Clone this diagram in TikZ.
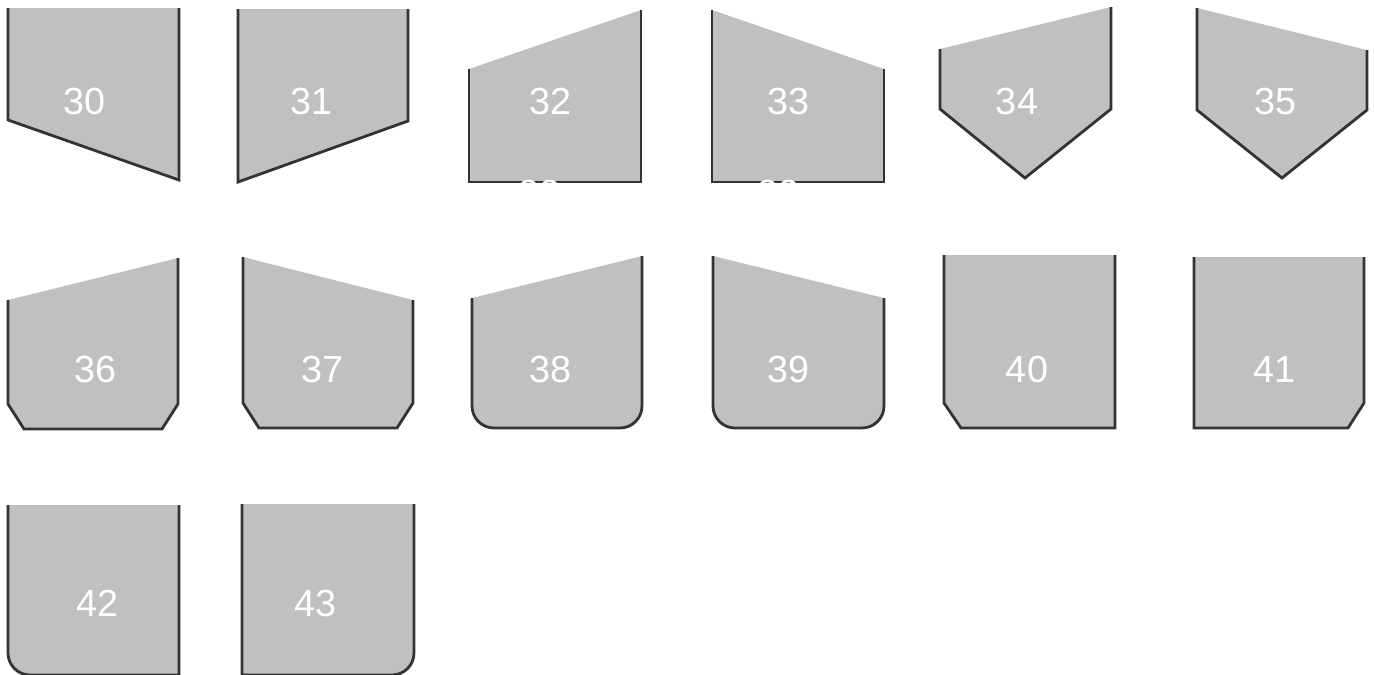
\documentclass[tikz,border=0pt]{standalone}
\usepackage{fontspec}
\setmainfont{Liberation Sans}
\definecolor{platefill}{HTML}{C0C0C0}
\definecolor{rimline}{HTML}{333333}
\newcommand{\numfont}{\fontsize{21.5}{24}\selectfont}
\tikzset{
 every node/.append style={font=\numfont,text=white,inner sep=0pt},
 plate/.style={draw=rimline,fill=platefill,line width=1.6pt,line join=miter},
 num/.style={text=white},
}

\begin{document}
\begin{tikzpicture}[x=0.02cm,y=-0.02cm]

\clip (0,0) rectangle (1374,674);

\draw[plate] (8,8) -- (8,120) -- (179,180) -- (179,8);
\draw[plate] (238,9) -- (238,182) -- (408,121) -- (408,9);
\draw[plate] (469,69) -- (469,182) -- (641,182) -- (641,10);
\draw[plate] (712,10) -- (712,182) -- (884,182) -- (884,69);
\draw[plate] (940,49) -- (940,109) -- (1025,178) -- (1111,109) -- (1111,7);
\draw[plate] (1197,8) -- (1197,110) -- (1282,178) -- (1367,110) -- (1367,50);

\draw[plate] (8,300) -- (8,404) -- (24,429) -- (162,429) -- (178,404) -- (178,258);
\draw[plate] (243,257) -- (243,403) -- (259,428) -- (397,428) -- (413,403) -- (413,300);
\draw[plate] (472,298) -- (472,406) arc (180:90:22) -- (620,428) arc (90:0:22) -- (642,256);
\draw[plate] (713,256) -- (713,406) arc (180:90:22) -- (862,428) arc (90:0:22) -- (884,298);
\draw[plate] (944,255) -- (944,403) -- (961,428) -- (1115,428) -- (1115,255);
\draw[plate] (1194,257) -- (1194,428) -- (1348,428) -- (1364,403) -- (1364,257);

\draw[plate] (8,505) -- (8,653) arc (180:90:22) -- (179,675) -- (179,505);
\draw[plate] (242,504) -- (242,675) -- (392,675) arc (90:0:22) -- (414,504);

\node[num] (n30) at (85,101) {30};
\node[num] (n31) at (312,101) {31};
\node[num] (n32) at (551,101) {32};
\node[num] (n33) at (789,101) {33};
\node[num] (n34) at (1017,101) {34};
\node[num] (n35) at (1275,101) {35};
\node[num] (n32b) at (540,193.5) {32};
\node[num] (n33b) at (779,193.5) {33};

\node[num] (n36) at (96,369) {36};
\node[num] (n37) at (323,369) {37};
\node[num] (n38) at (551,369) {38};
\node[num] (n39) at (789,369) {39};
\node[num] (n40) at (1027,369) {40};
\node[num] (n41) at (1274,369) {41};

\node[num] (n42) at (98,603) {42};
\node[num] (n43) at (316,603) {43};

\end{tikzpicture}
\end{document}
